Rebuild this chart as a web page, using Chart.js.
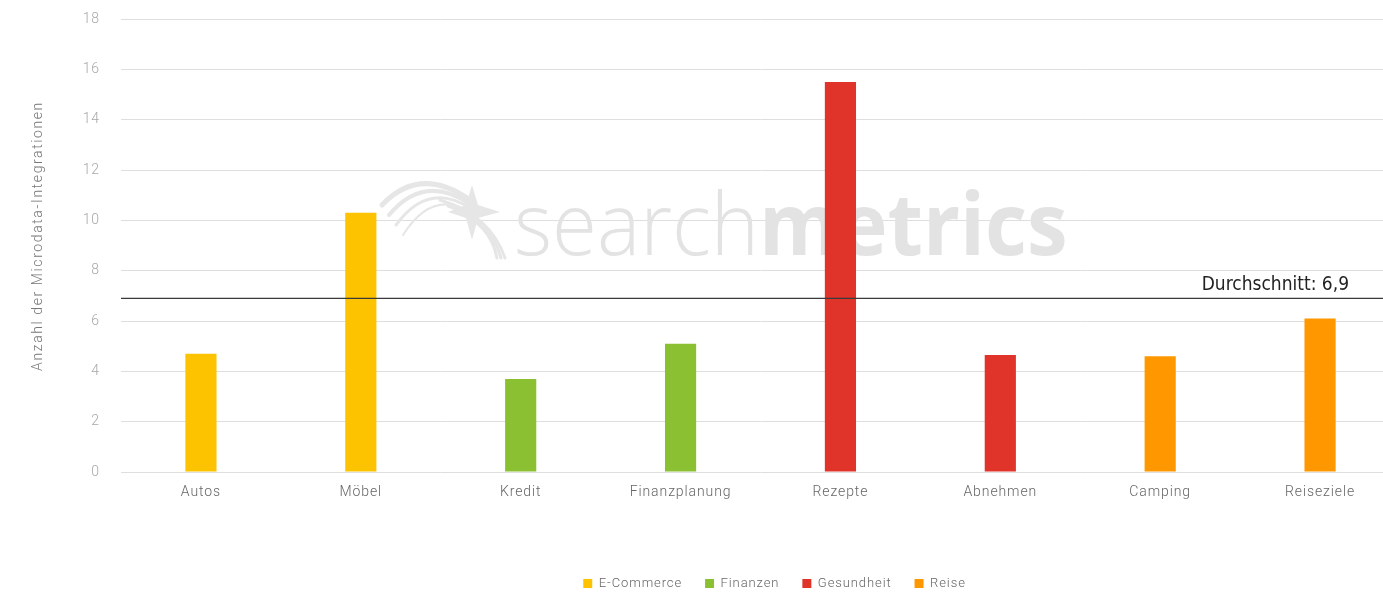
<!DOCTYPE html>
<html>
<head>
<meta charset="utf-8">
<script src="https://cdn.jsdelivr.net/npm/chart.js@4.4.1/dist/chart.umd.min.js"></script>
<style>
  html, body { margin: 0; padding: 0; background: #fff; overflow: hidden; }
  #wrap { position: relative; width: 1400px; height: 593px; }
</style>
</head>
<body>
<div id="wrap"><canvas id="c" width="1400" height="593"></canvas></div>
<script>
// ---- Data ----
const categories = ['Autos', 'Möbel', 'Kredit', 'Finanzplanung', 'Rezepte', 'Abnehmen', 'Camping', 'Reiseziele'];
const values = [4.7, 10.3, 3.7, 5.1, 15.5, 4.65, 4.6, 6.1];
const groups = ['E-Commerce', 'E-Commerce', 'Finanzen', 'Finanzen', 'Gesundheit', 'Gesundheit', 'Reise', 'Reise'];
const groupNames = ['E-Commerce', 'Finanzen', 'Gesundheit', 'Reise'];
const groupColors = ['#fdc300', '#8cc033', '#e0332a', '#ff9800'];
const yTicks = [0, 2, 4, 6, 8, 10, 12, 14, 16, 18];
const averageValue = 6.9;
const averageLabel = 'Durchschnitt: 6,9';
const yTitle = 'Anzahl der Microdata-Integrationen';
const watermarkLight = 'search';
const watermarkBold = 'metrics';

const datasets = groupNames.map((g, gi) => ({
  label: g,
  data: values.map((v, i) => groups[i] === g ? v : null),
  backgroundColor: groupColors[gi],
  borderWidth: 0,
  categoryPercentage: 1,
  barPercentage: 0.195
}));

const SPACING = '0.9px';
const spacingPlugin = {
  id: 'spacing',
  beforeUpdate(chart) { chart.ctx.letterSpacing = SPACING; },
  afterLayout(chart) {
    // centre the legend row like the reference
    if (chart.legend) { chart.legend.left += 14; chart.legend.right += 14; }
  },
  beforeDraw(chart) { chart.ctx.letterSpacing = SPACING; }
};

const yTitlePlugin = {
  id: 'yTitle',
  afterDraw(chart) {
    const ctx = chart.ctx;
    ctx.save();
    ctx.letterSpacing = '1.6px';
    ctx.fillStyle = '#777';
    ctx.font = '300 14px Roboto';
    ctx.textAlign = 'center';
    ctx.textBaseline = 'middle';
    ctx.translate(38, 236);
    ctx.rotate(-Math.PI / 2);
    ctx.fillText(yTitle, 0, 0);
    ctx.restore();
  }
};

const watermarkPlugin = {
  id: 'watermark',
  beforeDatasetsDraw(chart) {
    const ctx = chart.ctx;
    ctx.save();
    ctx.letterSpacing = '0px';
    // swoosh
    ctx.strokeStyle = '#e6e6e6';
    ctx.lineCap = 'round';
    for (let i = 0; i < 4; i++) {
      ctx.lineWidth = 5 - i;
      ctx.beginPath();
      ctx.moveTo(382 + i * 7, 205 + i * 10);
      ctx.quadraticCurveTo(420 + i * 4, 165 + i * 8, 470, 200 + i * 4);
      ctx.stroke();
    }
    for (let i = 0; i < 3; i++) {
      ctx.lineWidth = 3;
      ctx.beginPath();
      ctx.moveTo(440 + i * 8, 200 + i * 6);
      ctx.quadraticCurveTo(490, 215 + i * 4, 505 - i * 4, 258);
      ctx.stroke();
    }
    ctx.fillStyle = '#e6e6e6';
    ctx.beginPath();
    ctx.moveTo(472, 185); ctx.lineTo(478, 205); ctx.lineTo(500, 212);
    ctx.lineTo(478, 218); ctx.lineTo(472, 240); ctx.lineTo(466, 218);
    ctx.lineTo(448, 212); ctx.lineTo(466, 205); ctx.closePath();
    ctx.fill();
    // text
    ctx.fillStyle = '#e3e3e3';
    ctx.textBaseline = 'alphabetic';
    ctx.textAlign = 'left';
    ctx.translate(514, 255);
    ctx.scale(0.95, 1);
    ctx.font = '300 86px "Open Sans"';
    ctx.fillText(watermarkLight, 0, 0);
    const w = ctx.measureText(watermarkLight).width;
    ctx.font = 'bold 86px "Open Sans"';
    ctx.fillText(watermarkBold, w, 0);
    ctx.restore();
  }
};

const averagePlugin = {
  id: 'averageLine',
  afterDatasetsDraw(chart) {
    const ctx = chart.ctx;
    const y = chart.scales.y.getPixelForValue(averageValue);
    const a = chart.chartArea;
    ctx.save();
    ctx.letterSpacing = '0px';
    ctx.strokeStyle = '#3a3a3a';
    ctx.lineWidth = 1.3;
    ctx.beginPath();
    ctx.moveTo(a.left, y);
    ctx.lineTo(a.right, y);
    ctx.stroke();
    ctx.fillStyle = '#222';
    ctx.font = '19px "Liberation Sans Narrow", "DejaVu Sans Condensed", "Liberation Sans", sans-serif';
    ctx.textAlign = 'right';
    ctx.textBaseline = 'alphabetic';
    ctx.fillText(averageLabel, 1349, y - 8);
    ctx.restore();
  }
};

new Chart(document.getElementById('c'), {
  type: 'bar',
  data: { labels: categories, datasets },
  plugins: [spacingPlugin, watermarkPlugin, averagePlugin, yTitlePlugin],
  options: {
    responsive: false,
    animation: false,
    layout: { padding: { top: 19, right: 0, left: 0, bottom: -7 } },
    datasets: { bar: { grouped: false, skipNull: true } },
    plugins: {
      tooltip: { enabled: false },
      legend: {
        position: 'bottom',
        fullSize: false,
        labels: {
          boxWidth: 9, boxHeight: 9, padding: 23,
          color: '#666',
          font: { family: 'Roboto', size: 13, weight: '300' }
        }
      }
    },
    scales: {
      x: {
        grid: { display: false, drawTicks: false },
        border: { display: false },
        afterFit(scale) { scale.height = 82; },
        ticks: { color: '#666', font: { family: 'Roboto', size: 14, weight: '300' }, padding: 12 }
      },
      y: {
        min: 0, max: 18,
        afterBuildTicks(scale) { scale.ticks = yTicks.map(v => ({ value: v })); },
        afterFit(scale) { scale.width = 121; },
        grid: { color: '#dedede', drawTicks: true, tickLength: 21, tickColor: 'rgba(0,0,0,0)', lineWidth: 1 },
        border: { display: false },
        ticks: { color: '#a8a8a8', font: { family: 'Roboto', size: 14, weight: '300' }, padding: 0 },
        title: { display: false }
      }
    }
  }
});
</script>
</body>
</html>
